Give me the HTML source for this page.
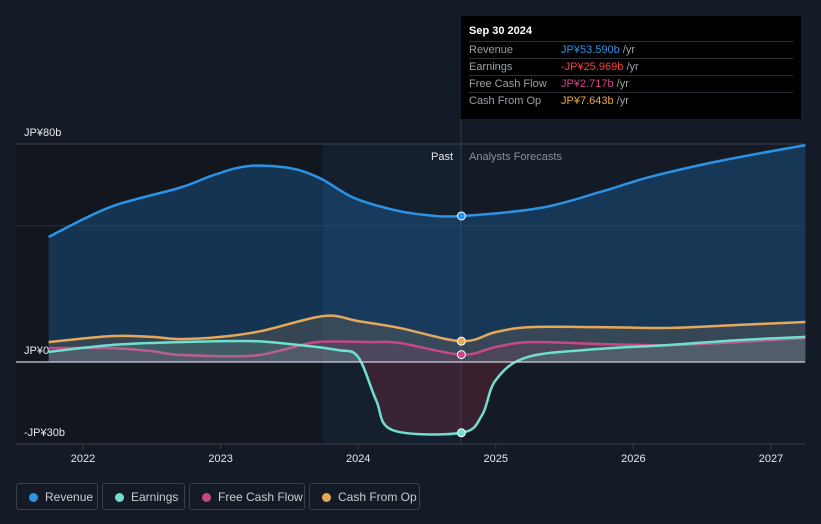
<!DOCTYPE html>
<html><head><meta charset="utf-8"><style>
html,body{margin:0;padding:0;background:#151b26;width:821px;height:524px;overflow:hidden;font-family:"Liberation Sans",sans-serif}
svg{position:absolute;left:0;top:0}
.tip{position:absolute;left:461px;top:16px;width:340px;height:103px;background:#000;color:#fff;font-size:11px}
.tip .h{position:absolute;left:8px;top:9px;font-weight:bold}
.row{position:absolute;left:8px;width:324px;border-top:1px solid #2a2f38;height:17px;line-height:17px}
.row span.l{color:#9aa0a8;display:inline-block;width:92px}
.legend{position:absolute;top:483px;height:27px;border:1px solid #3a404a;border-radius:3px;color:#c9ccd1;font-size:12px;line-height:27px;box-sizing:border-box}
.legend i{position:absolute;left:12px;top:9px;width:9px;height:9px;border-radius:50%}
.legend span{position:absolute;left:28px}
</style></head><body>
<svg id="c" width="821" height="524">
<defs>
<clipPath id="above"><rect x="0" y="0" width="821" height="362"/></clipPath>
<clipPath id="below"><rect x="0" y="362" width="821" height="162"/></clipPath>
</defs>
</svg>
<div class="tip">
<div class="h">Sep 30 2024</div>
<div class="row" style="top:25px"><span class="l">Revenue</span><span style="color:#2b93e5">JP¥53.590b</span> <span style="color:#9aa0a8">/yr</span></div>
<div class="row" style="top:42px"><span class="l">Earnings</span><span style="color:#f2413f">-JP¥25.969b</span> <span style="color:#9aa0a8">/yr</span></div>
<div class="row" style="top:59px"><span class="l">Free Cash Flow</span><span style="color:#d0468a">JP¥2.717b</span> <span style="color:#9aa0a8">/yr</span></div>
<div class="row" style="top:76px"><span class="l">Cash From Op</span><span style="color:#e9a84c">JP¥7.643b</span> <span style="color:#9aa0a8">/yr</span></div>
</div>
<div class="legend" style="left:16px;width:82px"><i style="background:#2b93e5"></i><span>Revenue</span></div>
<div class="legend" style="left:102px;width:83px"><i style="background:#6fe0cf"></i><span>Earnings</span></div>
<div class="legend" style="left:189px;width:116px"><i style="background:#c84887"></i><span>Free Cash Flow</span></div>
<div class="legend" style="left:309px;width:111px"><i style="background:#e5a859"></i><span>Cash From Op</span></div>
<script>
const revT=[2021.75,2022.2,2022.7,2022.95,2023.2,2023.5,2023.72,2023.97,2024.26,2024.5,2024.75,2025.32,2025.76,2026.12,2026.63,2027.25];
const revV=[45.9,56.9,63.9,68.6,71.9,71.2,67.5,60.2,55.8,53.9,53.59,56.5,62.4,67.9,73.8,79.6];
const earT=[2021.75,2022.2,2022.7,2023.2,2023.5,2023.85,2024.0,2024.13,2024.25,2024.75,2024.9,2025.0,2025.23,2025.75,2026.25,2026.75,2027.25];
const earV=[3.7,6.2,7.3,7.7,6.6,4.4,1.8,-14,-25,-25.97,-19.5,-6.6,1.8,4.8,6.2,8,9.2];
const fcfT=[2021.75,2022.2,2022.5,2022.7,2023.2,2023.45,2023.7,2024.1,2024.3,2024.75,2025.0,2025.25,2025.75,2026.25,2026.75,2027.25];
const fcfV=[5.1,5.1,4,2.6,2.2,4.4,7.3,7.3,7,2.717,5.5,7.3,6.6,6.2,7.3,8.8];
const cfoT=[2021.75,2022.2,2022.5,2022.7,2023.0,2023.3,2023.75,2024.0,2024.3,2024.75,2025.0,2025.25,2025.75,2026.25,2026.75,2027.25];
const cfoV=[7.3,9.5,9.2,8.4,9.2,11.4,16.9,15,12.5,7.643,11,12.8,12.8,12.5,13.6,14.7];
const yTicks=[80,0,-30];const yLabels=["JP¥80b","JP¥0","-JP¥30b"];
const xTicks=[2022,2023,2024,2025,2026,2027];
const X=t=>83+(t-2022)*137.6, Y=v=>362-v*2.725;
const s=document.getElementById('c');const NS='http://www.w3.org/2000/svg';
function el(tag,a,p){const e=document.createElementNS(NS,tag);for(const k in a)e.setAttribute(k,a[k]);(p||s).appendChild(e);return e;}
let r=el('rect',{x:16,y:144,width:307,height:300,fill:'#12161e'});


r=el('rect',{x:323,y:144,width:138,height:300,fill:'#14202e'});


el('line',{x1:16,x2:805,y1:Y(50),y2:Y(50),stroke:'#263040'});
el('line',{x1:16,x2:805,y1:Y(80),y2:Y(80),stroke:'#3a404a'});
el('line',{x1:16,x2:805,y1:444,y2:444,stroke:'#3a404a'});
el('line',{x1:461,x2:461,y1:119,y2:444,stroke:'#2f3a48'});
function path(T,V){const p=T.map((t,i)=>[X(t),Y(V[i])]);let d='M'+p[0][0]+','+p[0][1];
for(let i=0;i<p.length-1;i++){const p0=p[i-1]||p[i],p1=p[i],p2=p[i+1],p3=p[i+2]||p2;
d+=` C${p1[0]+(p2[0]-p0[0])/6},${p1[1]+(p2[1]-p0[1])/6} ${p2[0]-(p3[0]-p1[0])/6},${p2[1]-(p3[1]-p1[1])/6} ${p2[0]},${p2[1]}`;}return d;}
const series=[['revenue',revT,revV,'#2b93e5','rgba(30,110,180,0.35)',null],['cash-from-op',cfoT,cfoV,'#e5a859','rgba(200,150,90,0.18)',null],['free-cash-flow',fcfT,fcfV,'#c84887','rgba(180,60,110,0.18)',null],['earnings',earT,earV,'#6fe0cf','rgba(110,200,190,0.18)','rgba(150,45,70,0.28)']];
series.forEach(([n,T,V,c,f,neg])=>{const d=path(T,V);const ad=d+` L${X(T[T.length-1])},362 L${X(T[0])},362 Z`;
let a=el('path',{d:ad,fill:f,'clip-path':'url(#above)'});


if(neg){let b=el('path',{d:ad,fill:neg,'clip-path':'url(#below)'});

}
let l=el('path',{d,fill:'none',stroke:c,'stroke-width':2.5});


const i=T.indexOf(2024.75);let m=el('circle',{cx:X(T[i]),cy:Y(V[i]),r:4,fill:c,stroke:'#fff','stroke-width':1});

});
el('line',{x1:16,x2:805,y1:362,y2:362,stroke:'#d0d3d8','stroke-width':1.2});
yTicks.forEach((v,i)=>{const t=el('text',{x:24,y:Y(v)-8,fill:'#e6e8eb','font-size':11});t.textContent=yLabels[i];

});
xTicks.forEach(v=>{el('line',{x1:X(v),x2:X(v),y1:444,y2:449,stroke:'#3a404a'});const t=el('text',{x:X(v),y:462,fill:'#e6e8eb','font-size':11,'text-anchor':'middle'});t.textContent=v;

});
let t=el('text',{x:453,y:160,fill:'#e6e8eb','font-size':11,'text-anchor':'end'});t.textContent='Past';


t=el('text',{x:469,y:160,fill:'#8a9099','font-size':11});t.textContent='Analysts Forecasts';


</script>
</body></html>
